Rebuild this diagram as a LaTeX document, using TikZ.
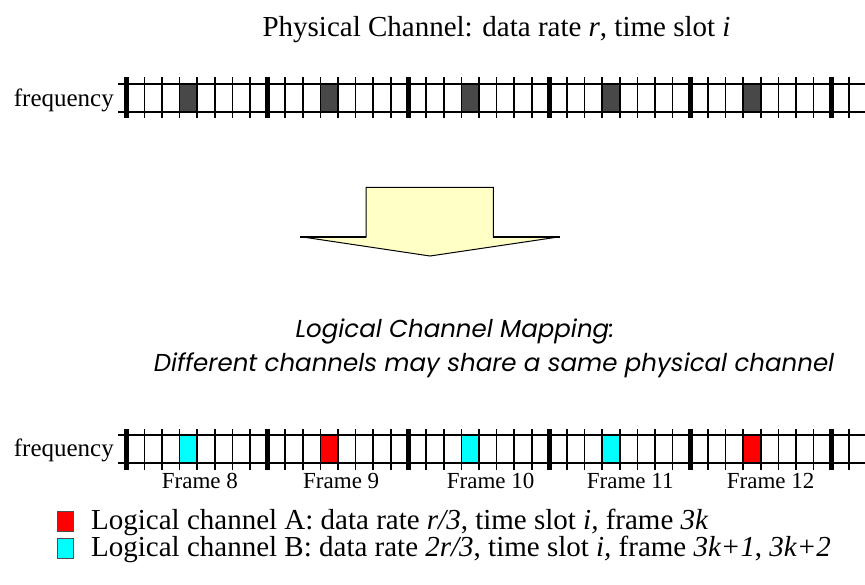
\documentclass[tikz,border=0pt]{standalone}
\usepackage{fontspec}
\setmainfont{Liberation Serif}
\newfontfamily\handfont{Poppins}
\definecolor{slotgray}{RGB}{72,72,72}
\definecolor{arrowyellow}{RGB}{255,255,198}
\definecolor{chanA}{RGB}{255,0,0}
\definecolor{chanB}{RGB}{0,255,255}
\begin{document}
\begin{tikzpicture}[x=1pt,y=-1pt,
  hline/.style={line width=1.6pt,black},
  tick/.style={line width=1.6pt,black},
  framebar/.style={line width=5pt,black},
  bigtext/.style={inner sep=0pt,font=\fontsize{29}{34}\selectfont},
  freqtext/.style={inner sep=0pt,anchor=base east,font=\fontsize{25}{30}\selectfont},
  frametext/.style={inner sep=0pt,anchor=base west,font=\fontsize{23}{27}\selectfont},
  handtext/.style={inner sep=0pt,anchor=base,font=\handfont\itshape\fontsize{24.5}{30}\selectfont},
  legbox/.style={draw=black!70,line width=1pt,inner sep=0pt,minimum width=16pt,minimum height=20pt}]
\useasboundingbox (0,0) rectangle (865,584);
\def\xa{126.7}\def\fw{140.9}\def\sw{17.6125}

% ---- physical channel ----
\node[bigtext,anchor=base] (title) at (496.5,36.7)
  {Physical Channel: data rate \textit{r}, time slot \textit{i}};
\node[freqtext] (freqtop) at (114,106) {frequency};
\foreach \k in {0,...,4}
  \fill[slotgray] ({\xa+\k*\fw+3*\sw},84) rectangle ++(\sw,28);
\draw[hline] (118,84) -- (865,84);
\draw[hline] (118,112) -- (865,112);
\foreach \k in {0,...,4}
  \foreach \j in {1,...,7}
    \draw[tick] ({\xa+\k*\fw+\j*\sw},77) -- ++(0,41);
\draw[tick] ({\xa+5*\fw+\sw},77) -- ++(0,41);
\foreach \k in {0,...,5}
  \draw[framebar] ({\xa+\k*\fw},77) -- ++(0,41);

% ---- block arrow ----
\filldraw[fill=arrowyellow,draw=black,line width=1pt,line join=miter]
  (366,187.3) -- (493.3,187.3) -- (493.3,237) -- (558.3,237) -- (430,256)
  -- (302.7,237) -- (366,237) -- cycle;
\draw[line width=2pt] (300,236.5) -- (366,236.5);
\draw[line width=2pt] (493.3,236.5) -- (560,236.5);

% ---- logical mapping ----
\node[handtext] (maptitle) at (455,337) {Logical Channel Mapping:};
\node[handtext] (mapsub) at (494,371) {Different channels may share a same physical channel};

\node[freqtext] (freqbot) at (114,456) {frequency};
\foreach \k/\c in {0/chanB,1/chanA,2/chanB,3/chanB,4/chanA}
  \fill[\c] ({\xa+\k*\fw+3*\sw},435) rectangle ++(\sw,28);
\draw[hline] (118,435) -- (865,435);
\draw[hline] (118,463) -- (865,463);
\foreach \k in {0,...,4}
  \foreach \j in {1,...,7}
    \draw[tick] ({\xa+\k*\fw+\j*\sw},429) -- ++(0,41);
\draw[tick] ({\xa+5*\fw+\sw},429) -- ++(0,41);
\foreach \k in {0,...,5}
  \draw[framebar] ({\xa+\k*\fw},429) -- ++(0,41);

\node[frametext] (f8) at (161.7,488) {Frame 8};
\node[frametext] (f9) at (303,488) {Frame 9};
\node[frametext] (f10) at (446.7,488) {Frame 10};
\node[frametext] (f11) at (586.7,488) {Frame 11};
\node[frametext] (f12) at (726.7,488) {Frame 12};

% ---- legend ----
\node[legbox,fill=chanA] (boxA) at (65,521) {};
\node[legbox,fill=chanB] (boxB) at (65,548) {};
\node[bigtext,anchor=base west] (legA) at (91,529)
  {Logical channel A: data rate \textit{r/3}, time slot \textit{i,} frame \textit{3k}};
\node[bigtext,anchor=base west] (legB) at (91,556)
  {Logical channel B: data rate \textit{2r/3}, time slot \textit{i,} frame \textit{3k+1}, \textit{3k+2}};
\end{tikzpicture}
\end{document}
